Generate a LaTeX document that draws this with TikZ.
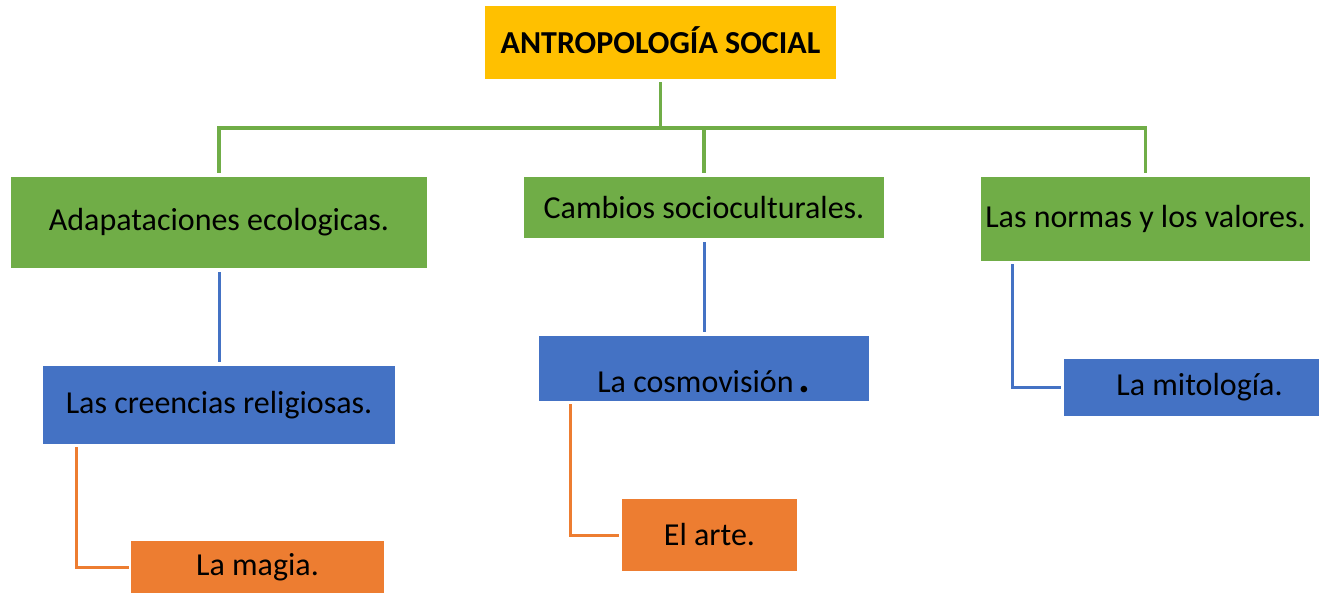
\documentclass[tikz,border=0pt]{standalone}
\usepackage{fontspec}
\setmainfont{Carlito}
\usetikzlibrary{positioning,calc}

\definecolor{ofgreen}{HTML}{70AD47}
\definecolor{ofblue}{HTML}{4472C4}
\definecolor{oforange}{HTML}{ED7D31}
\definecolor{ofyellow}{HTML}{FFC000}

\tikzset{
  box/.style={rectangle, inner sep=2pt, font=\fontsize{32}{38}\selectfont},
  greenbox/.style={box, fill=ofgreen},
  bluebox/.style={box, fill=ofblue},
  orangebox/.style={box, fill=oforange},
  greenline/.style={draw=ofgreen, line width=3.5pt},
  blueline/.style={draw=ofblue, line width=3pt},
  orangeline/.style={draw=oforange, line width=3pt},
}

\begin{document}
\begin{tikzpicture}[x=1pt,y=-1pt]
\useasboundingbox (0,0) rectangle (1319,593);

\node[box, fill=ofyellow, minimum width=351pt, minimum height=73pt,
      text height=22pt, text depth=0pt,
      font=\fontsize{32}{38}\selectfont\bfseries] (title) at (660.5,42.5) {ANTROPOLOGÍA SOCIAL};

\node[greenbox, minimum width=416pt, minimum height=91pt] (adap) at (219,222.5) {Adapataciones ecologicas.};
\node[greenbox, minimum width=360pt, minimum height=61pt] (cambios) at (704,207.5) {Cambios socioculturales.};
\node[greenbox, minimum width=329pt, minimum height=84pt] (normas) at (1145.5,219) {Las normas y los valores.};

\node[bluebox, minimum width=352pt, minimum height=78pt] (creencias) at (219,405) {Las creencias religiosas.};
\node[bluebox, minimum width=330pt, minimum height=65pt, text height=47pt, text depth=0pt] (cosmo) at (704,368.5)
  {La cosmovisión\,{\fontsize{44}{44}\selectfont\bfseries .}};
\node[bluebox, minimum width=255pt, minimum height=57pt] (mito) at (1191.5,387.5) {\hspace{16pt}La mitología.};

\node[orangebox, minimum width=253pt, minimum height=52pt] (magia) at (257.5,567) {La magia.};
\node[orangebox, minimum width=175pt, minimum height=72pt] (arte) at (709.5,535) {El arte.};

% green tree
\coordinate (bus) at (title.south |- 0,128);
\draw[greenline] ([yshift=-3pt]title.south) -- (bus);
\draw[greenline] ([yshift=4pt]adap.north) |- (bus) -| ([yshift=4pt]normas.north);
\draw[greenline] ([yshift=4pt]cambios.north) -- (cambios.north |- bus);

% blue links
\draw[blueline] ([yshift=-4pt]adap.south) -- ([yshift=4pt]creencias.north);
\draw[blueline] ([yshift=-4pt]cambios.south) -- ([yshift=4pt]cosmo.north);
\draw[blueline] ([xshift=32pt,yshift=-3pt]normas.south west) |- ([xshift=-3pt]mito.west);

% orange links
\draw[orangeline] ([xshift=34pt,yshift=-3pt]creencias.south west) |- ([xshift=-2pt]magia.west);
\draw[orangeline] ([xshift=32pt,yshift=-3pt]cosmo.south west) |- ([xshift=-3pt]arte.west);
\end{tikzpicture}
\end{document}
